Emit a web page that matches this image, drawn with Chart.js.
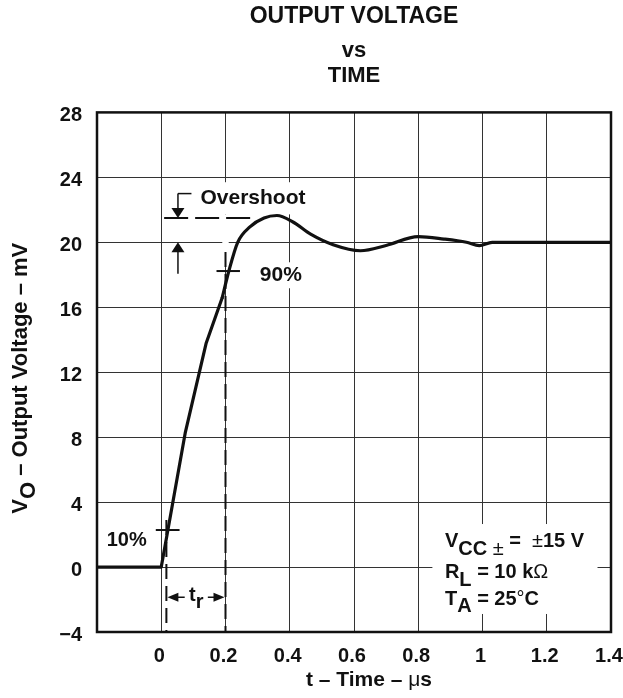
<!DOCTYPE html>
<html>
<head>
<meta charset="utf-8">
<script src="https://cdn.jsdelivr.net/npm/chart.js@4.4.0/dist/chart.umd.min.js"></script>
<style>
html,body{margin:0;padding:0;background:#fff}
#wrap{width:623px;height:698px}
</style>
</head>
<body>
<div id="wrap"><canvas id="myChart" width="623" height="698"></canvas></div>
<script>
// step response: time in us, output in mV
var timeUs=[-0.2,0,0.02,0.075,0.14,0.19,0.21,0.238,0.276,0.32,0.36,0.41,0.465,0.535,0.62,0.70,0.80,0.88,0.95,0.99,1.03,1.4]
var outputMv=[0,0,2.2,8.3,13.8,16.6,18.2,20.0,20.95,21.5,21.65,21.25,20.5,19.85,19.48,19.8,20.35,20.2,20.0,19.8,20.0,20.0]
var riseEnd=5 // rise is straight up to this point, ringing is smooth after it

var xTickValues=[-0.2,0,0.2,0.4,0.6,0.8,1,1.2,1.4]
var xTickLabels=['','0','0.2','0.4','0.6','0.8','1','1.2','1.4']
var yTickValues=[-4,0,4,8,12,16,20,24,28]
var yTickLabels=['\u22124','0','4','8','12','16','20','24','28']

var FONT="'Liberation Sans', Arial, Helvetica, sans-serif"
Chart.defaults.font.family=FONT
Chart.defaults.color='#111'

var points=[]
for(var i=0;i<timeUs.length;i++){
    points.push({x:timeUs[i],y:outputMv[i]})
}

// text with subscripts, drawn run by run
function runsWidth(ctx,runs,size){
    var w=0
    runs.forEach(function(r){
        ctx.font=(r.light?'':'bold ')+size+'px '+FONT
        w+=ctx.measureText(r.t).width
    })
    return w
}
function drawRuns(ctx,x,y,runs,size){
    runs.forEach(function(r){
        ctx.font=(r.light?'':'bold ')+size+'px '+FONT
        ctx.fillText(r.t,x,y+(r.sub?size*0.36:0))
        x+=ctx.measureText(r.t).width
    })
}
function arrowHead(ctx,x,y,dir,len,half){
    ctx.beginPath()
    ctx.moveTo(x,y)
    if(dir=='down'){ctx.lineTo(x-half,y-len);ctx.lineTo(x+half,y-len)}
    if(dir=='up'){ctx.lineTo(x-half,y+len);ctx.lineTo(x+half,y+len)}
    if(dir=='left'){ctx.lineTo(x+len,y-half);ctx.lineTo(x+len,y+half)}
    if(dir=='right'){ctx.lineTo(x-len,y-half);ctx.lineTo(x-len,y+half)}
    ctx.closePath()
    ctx.fill()
}
function line(ctx,x1,y1,x2,y2){
    ctx.beginPath()
    ctx.moveTo(x1,y1)
    ctx.lineTo(x2,y2)
    ctx.stroke()
}

var notes={
    id:'notes',
    beforeDatasetsDraw:function(chart){
        var ctx=chart.ctx,xs=chart.scales.x,ys=chart.scales.y
        var px=function(v){return xs.getPixelForValue(v)}
        var py=function(v){return ys.getPixelForValue(v)}
        ctx.save()
        ctx.fillStyle='#fff'
        // blank the grid behind the labels
        ctx.fillRect(px(0.107),py(23.7),px(0.469)-px(0.107),py(21.72)-py(23.7))
        ctx.fillRect(px(0.19),py(21.72),px(0.21)-px(0.19),py(19.4)-py(21.72))
        ctx.fillRect(px(0.294),py(18.77),px(0.453)-px(0.294),py(17.17)-py(18.77))
        ctx.fillRect(px(0.844),py(2.65),px(1.358)-px(0.844),py(-2.89)-py(2.65))
        ctx.restore()
    },
    afterDatasetsDraw:function(chart){
        var ctx=chart.ctx,xs=chart.scales.x,ys=chart.scales.y,a=chart.chartArea
        var px=function(v){return xs.getPixelForValue(v)}
        var py=function(v){return ys.getPixelForValue(v)}
        ctx.save()
        ctx.strokeStyle='#111'
        ctx.fillStyle='#111'

        // frame
        ctx.lineWidth=2.5
        ctx.strokeRect(a.left,a.top,a.right-a.left,a.bottom-a.top)

        // overshoot
        ctx.lineWidth=2
        ctx.setLineDash([24,7])
        line(ctx,px(0.009),py(21.5),px(0.283),py(21.5))
        ctx.setLineDash([])
        ctx.lineWidth=1.5
        line(ctx,px(0.094),py(23.0),px(0.052),py(23.0))
        line(ctx,px(0.052),py(23.0),px(0.052),py(21.5)-8)
        arrowHead(ctx,px(0.052),py(21.5),'down',10,6.5)
        line(ctx,px(0.052),py(20)+8,px(0.052),py(18.07))
        arrowHead(ctx,px(0.052),py(20),'up',10,6.5)

        // 90% and 10% marks
        ctx.lineWidth=2
        line(ctx,px(0.172),py(18.23),px(0.245),py(18.23))
        line(ctx,px(-0.017),py(2.28),px(0.057),py(2.28))
        ctx.setLineDash([15,7])
        line(ctx,px(0.2),py(19.4),px(0.2),a.bottom)
        line(ctx,px(0.016),py(2.9),px(0.016),a.bottom)
        ctx.setLineDash([])

        // rise time arrows
        ctx.lineWidth=1.5
        var ty=py(-1.86)
        line(ctx,px(0.016)+8,ty,px(0.073),ty)
        arrowHead(ctx,px(0.016)+1,ty,'left',11,4.5)
        line(ctx,px(0.145),ty,px(0.2)-8,ty)
        arrowHead(ctx,px(0.2)-1,ty,'right',11,4.5)

        ctx.textBaseline='middle'
        ctx.textAlign='left'
        var tr=[{t:'t'},{t:'r',sub:true}]
        drawRuns(ctx,(px(0.073)+px(0.145))/2-runsWidth(ctx,tr,20)/2,ty-2,tr,20)

        ctx.font='bold 21px '+FONT
        ctx.fillText('Overshoot',px(0.122),py(22.74))
        ctx.fillText('90%',px(0.307),py(18.0))
        ctx.font='bold 20px '+FONT
        ctx.fillText('10%',px(-0.17),py(1.66))

        // test conditions
        ctx.textBaseline='alphabetic'
        var lx=px(0.883)
        drawRuns(ctx,lx,py(1.21),[{t:'V'},{t:'CC',sub:true},{t:' \u00b1',sub:true,light:true},{t:' =  '},{t:'\u00b1',light:true},{t:'15 V'}],20)
        drawRuns(ctx,lx,py(-0.70),[{t:'R'},{t:'L',sub:true},{t:' = 10 k'},{t:'\u03a9',light:true}],20)
        drawRuns(ctx,lx,py(-2.34),[{t:'T'},{t:'A',sub:true},{t:' = 25'},{t:'\u00b0',light:true},{t:'C'}],20)

        // axis titles
        ctx.textBaseline='middle'
        var xt=[{t:'t \u2013 Time \u2013 '},{t:'\u03bc',light:true},{t:'s'}]
        drawRuns(ctx,(a.left+a.right)/2+15-runsWidth(ctx,xt,21)/2,680,xt,21)

        var yt=[{t:'V'},{t:'O',sub:true},{t:' \u2013 Output Voltage \u2013 mV'}]
        ctx.translate(21,(a.top+a.bottom)/2+6)
        ctx.rotate(-Math.PI/2)
        drawRuns(ctx,-runsWidth(ctx,yt,22)/2,0,yt,22)
        ctx.restore()
    }
}

var myChart=document.getElementById('myChart').getContext('2d')
var chart=new Chart(myChart,{
    type:'line',
    data:{
        datasets:[{
            label:'Rise',
            data:points.slice(0,riseEnd+1),
            borderColor:'#111',
            borderWidth:3.2,
            pointRadius:0,
            fill:false,
            tension:0,
            borderJoinStyle:'round'
        },{
            label:'Ringing',
            data:points.slice(riseEnd),
            borderColor:'#111',
            borderWidth:3.2,
            pointRadius:0,
            fill:false,
            cubicInterpolationMode:'monotone',
            borderJoinStyle:'round',
            borderCapStyle:'round'
        }]
    },
    options:{
        responsive:false,
        animation:false,
        devicePixelRatio:1,
        layout:{padding:{left:0,right:12,top:0,bottom:0}},
        plugins:{
            legend:{display:false},
            tooltip:{enabled:false},
            title:{
                display:true,
                text:'OUTPUT VOLTAGE',
                fullSize:false,
                color:'#111',
                font:{size:23,weight:'bold',lineHeight:1.2},
                padding:{top:2.7,bottom:0}
            },
            subtitle:{
                display:true,
                text:['vs','TIME'],
                fullSize:false,
                color:'#111',
                font:{size:22,weight:'bold',lineHeight:25/22},
                padding:{top:8.3,bottom:23.8}
            }
        },
        scales:{
            x:{
                type:'linear',
                min:-0.2,
                max:1.4,
                afterBuildTicks:function(s){s.ticks=xTickValues.map(function(v){return {value:v}})},
                afterFit:function(s){s.height=66;s.paddingLeft=0;s.paddingRight=0},
                ticks:{
                    autoSkip:false,
                    maxRotation:0,
                    padding:12,
                    labelOffset:-2,
                    font:{size:20,weight:'bold'},
                    color:'#111',
                    callback:function(v,i){return xTickLabels[i]}
                },
                grid:{color:'#333',lineWidth:1,drawTicks:false},
                border:{display:false}
            },
            y:{
                min:-4,
                max:28,
                afterBuildTicks:function(s){s.ticks=yTickValues.map(function(v){return {value:v}})},
                afterFit:function(s){s.width=97;s.paddingTop=0;s.paddingBottom=0},
                ticks:{
                    autoSkip:false,
                    padding:15,
                    labelOffset:3,
                    font:{size:20,weight:'bold'},
                    color:'#111',
                    callback:function(v,i){return yTickLabels[i]}
                },
                grid:{color:'#333',lineWidth:1,drawTicks:false},
                border:{display:false}
            }
        }
    },
    plugins:[notes]
})
</script>
</body>
</html>
